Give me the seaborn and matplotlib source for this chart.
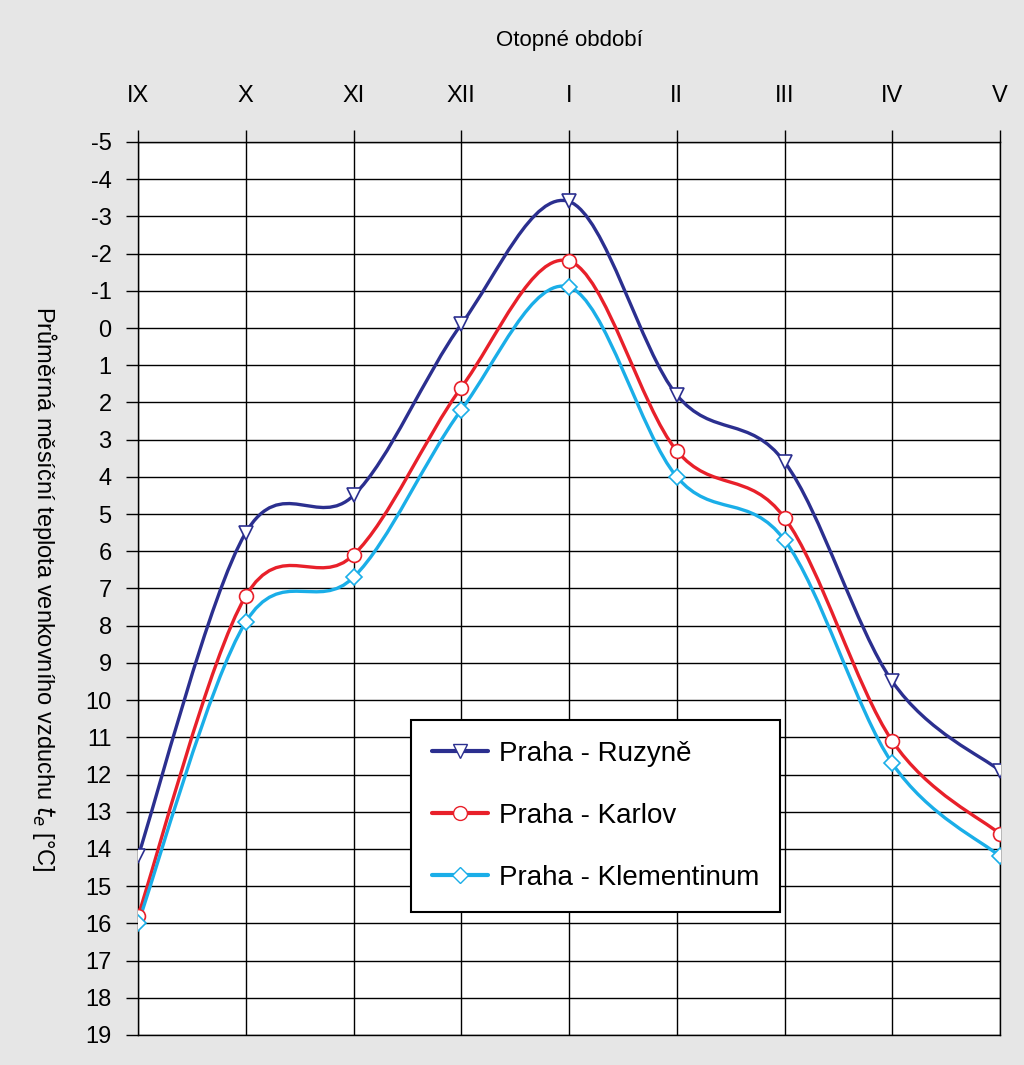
import numpy as np
import pandas as pd
import seaborn as sns
import matplotlib.pyplot as plt
from matplotlib.path import Path
from matplotlib.patches import PathPatch

# data
months = ["IX", "X", "XI", "XII", "I", "II", "III", "IV", "V"]
ruzyne = [14.2, 5.5, 4.5, -0.1, -3.4, 1.8, 3.6, 9.5, 11.9]
karlov = [15.8, 7.2, 6.1, 1.6, -1.8, 3.3, 5.1, 11.1, 13.6]
klementinum = [16.0, 7.9, 6.7, 2.2, -1.1, 4.0, 5.7, 11.7, 14.2]
series_names = ["Praha - Ruzyně", "Praha - Karlov", "Praha - Klementinum"]
colors = ["#2B2F8F", "#E8202A", "#1AAEE8"]
markers = ["v", "o", "D"]
y_ticks = list(range(-5, 20))


def smooth_path(xs, ys):
    # bezier path through points, like the smoothed lines in Excel
    pts = np.column_stack([xs, ys]).astype(float)
    ext = np.vstack([pts[0], pts, pts[-1]])
    verts = [pts[0]]
    codes = [Path.MOVETO]
    for i in range(len(pts) - 1):
        p0, p1, p2, p3 = ext[i], ext[i + 1], ext[i + 2], ext[i + 3]
        verts += [p1 + (p2 - p0) / 6, p2 - (p3 - p1) / 6, p2]
        codes += [Path.CURVE4] * 3
    return Path(verts, codes)


df = pd.DataFrame({
    "x": list(range(len(months))) * 3,
    "t": ruzyne + karlov + klementinum,
    "stanice": np.repeat(series_names, len(months)),
})

sns.set_style("white")
plt.rcParams["font.family"] = ["Liberation Sans", "DejaVu Sans"]
plt.rcParams["axes.unicode_minus"] = False
plt.rcParams["text.color"] = "black"
plt.rcParams["axes.labelcolor"] = "black"

fig = plt.figure(figsize=(10.24, 10.65), dpi=100, facecolor="#E6E6E6")
ax = fig.add_axes([0.1348, 0.0282, 0.8418, 0.8385])
ax.set_facecolor("white")

for name, col, mk in zip(series_names, colors, markers):
    sub = df[df["stanice"] == name]
    ax.add_patch(PathPatch(smooth_path(sub["x"], sub["t"]), fill=False,
                           edgecolor=col, lw=2.4, zorder=3))
    sns.lineplot(data=sub, x="x", y="t", ax=ax, color=col, lw=0,
                 marker=mk, markersize=10 if mk != "D" else 8,
                 markerfacecolor="white", markeredgecolor=col,
                 markeredgewidth=1.2, zorder=4)

ax.set_xlim(0, len(months) - 1)
ax.set_ylim(19, -5)
ax.set_xticks(range(len(months)))
ax.set_xticklabels(months)
ax.set_yticks(y_ticks)
ax.xaxis.tick_top()
ax.xaxis.set_label_position("top")
ax.grid(True, color="black", lw=1.0)
ax.tick_params(axis="x", direction="out", length=9, width=1, pad=16,
               labelsize=17, colors="black", top=True, bottom=False)
ax.tick_params(axis="y", direction="out", length=9, width=1, pad=10,
               labelsize=17, colors="black", left=True)
for s in ax.spines.values():
    s.set_color("black")
    s.set_linewidth(1.0)

ax.set_xlabel("Otopné období", fontsize=16, labelpad=28)
ax.set_ylabel("Průměrná měsíční teplota venkovního vzduchu $t_e$ [°C]",
              fontsize=17, rotation=270, va="center")
ax.yaxis.set_label_coords(-0.108, 0.5)

handles = [plt.Line2D([], [], color=c, lw=3, marker=m,
                      markersize=10 if m != "D" else 8,
                      markerfacecolor="white", markeredgecolor=c)
           for c, m in zip(colors, markers)]
leg = ax.legend(handles, series_names, loc="lower left",
                bbox_to_anchor=(0.317, 0.138), borderaxespad=0,
                fontsize=20, frameon=True, fancybox=False,
                edgecolor="black", borderpad=0.75, labelspacing=1.3,
                handlelength=2.0, handletextpad=0.4)
leg.get_frame().set_linewidth(1.5)
leg.get_frame().set_facecolor("white")
leg.get_frame().set_alpha(1)

fig.savefig("out.png", dpi=100, facecolor=fig.get_facecolor())
